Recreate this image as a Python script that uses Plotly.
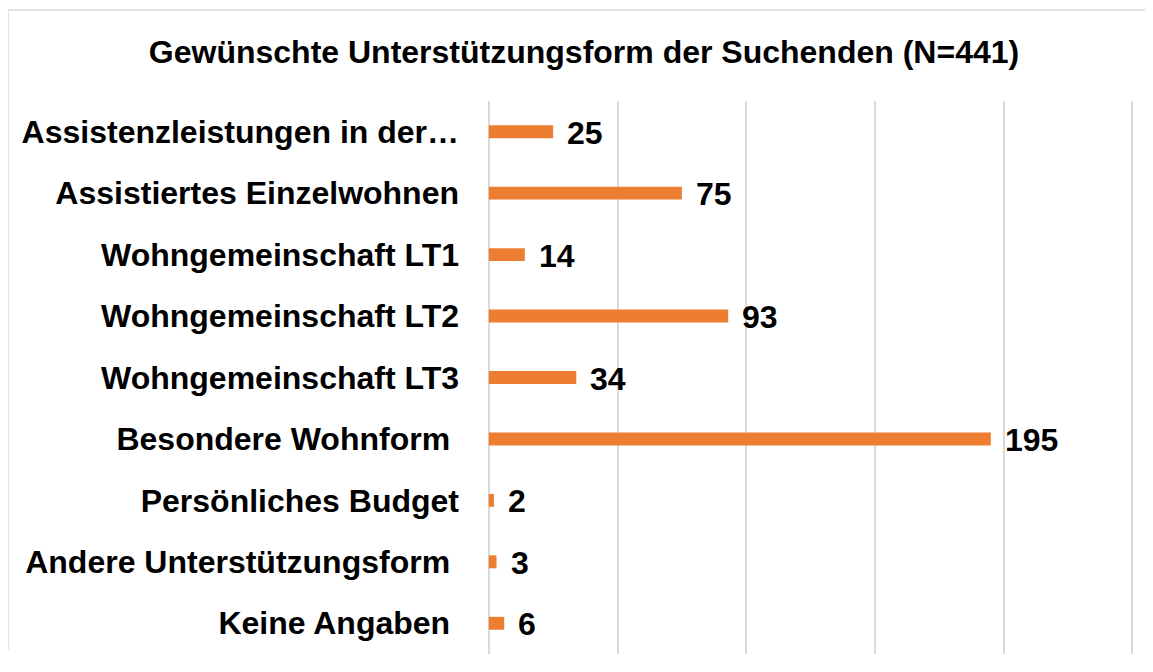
import plotly.graph_objects as go

categories = [
    "Assistenzleistungen in der…",
    "Assistiertes Einzelwohnen",
    "Wohngemeinschaft LT1",
    "Wohngemeinschaft LT2",
    "Wohngemeinschaft LT3",
    "Besondere Wohnform\u00a0",
    "Persönliches Budget",
    "Andere Unterstützungsform\u00a0",
    "Keine Angaben\u00a0",
]
values = [25, 75, 14, 93, 34, 195, 2, 3, 6]
title_text = "Gewünschte Unterstützungsform der Suchenden (N=441)"

FONT = "Liberation Sans, Arial, sans-serif"
FS = 32
W, H = 1137, 656
L, R, T, B = 480, 10, 93, 10

fig = go.Figure()
fig.add_trace(go.Bar(
    x=values, y=categories, orientation="h",
    marker=dict(color="#ED7D31", line=dict(width=0)),
    width=0.21, hoverinfo="skip",
))

for c, v in zip(categories, values):
    fig.add_annotation(
        x=v, y=c, text=str(v), showarrow=False,
        xanchor="left", yanchor="middle", xshift=12, yshift=-1,
        font=dict(family=FONT, size=FS, color="#000000", weight="bold"),
    )

fig.update_layout(
    width=W, height=H,
    margin=dict(l=L, r=R, t=T, b=B),
    paper_bgcolor="white", plot_bgcolor="white",
    showlegend=False,
    title=dict(
        text=title_text, x=(584 - 8) / W, xanchor="center", y=1 - 44 / H, yanchor="middle",
        font=dict(family=FONT, size=FS, color="#000000", weight="bold"),
    ),
    xaxis=dict(
        range=[-0.3, 251], tickvals=[0, 50, 100, 150, 200, 250],
        showgrid=True, gridcolor="#D9D9D9", gridwidth=1.5,
        showticklabels=False, zeroline=True, zerolinecolor="#D9D9D9", zerolinewidth=1.5,
        showline=False, ticks="",
    ),
    yaxis=dict(
        autorange="reversed", showgrid=False, zeroline=False, showline=False, ticks="",
        ticklabelstandoff=28,
        tickfont=dict(family=FONT, size=FS, color="#000000", weight="bold"),
    ),
)

pw = W - L - R
ph = H - T - B
px0 = 8 + L
py_bottom = 8 + H - B
bx = (8 - px0) / pw
by = (py_bottom - 10) / ph
fx = (W - L) / pw
fy = (py_bottom - 650) / ph
border = dict(color="#D9D9D9", width=1.5)
fig.add_shape(type="line", xref="paper", yref="paper", x0=bx, x1=fx, y0=by, y1=by,
              line=border, layer="below")
fig.add_shape(type="line", xref="paper", yref="paper", x0=bx, x1=bx, y0=fy, y1=by,
              line=border, layer="below")

fig.write_html("out.html")
